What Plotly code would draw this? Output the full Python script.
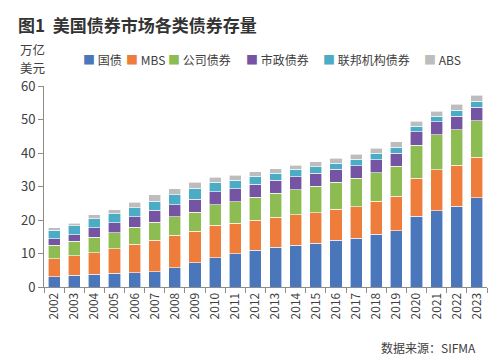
import plotly.graph_objects as go

years = [str(y) for y in range(2002, 2024)]
treasury = [3.1, 3.5, 3.8, 4.1, 4.2, 4.5, 5.8, 7.3, 8.8, 9.9, 10.9, 11.8, 12.4, 13.1, 14.0, 14.6, 15.8, 16.8, 21.1, 22.8, 24.1, 26.6]
mbs = [5.3, 5.8, 6.4, 7.3, 8.5, 9.5, 9.6, 9.4, 9.6, 9.2, 9.1, 9.0, 9.1, 9.1, 9.2, 9.4, 9.8, 10.3, 11.3, 12.2, 12.3, 12.2]
corporate = [4.1, 4.4, 4.7, 4.8, 5.1, 5.3, 5.5, 5.6, 6.2, 6.4, 6.8, 7.2, 7.6, 7.9, 8.0, 8.4, 8.5, 8.9, 9.9, 10.5, 10.5, 10.9]
municipal = [1.9, 1.9, 2.8, 3.0, 3.2, 3.6, 3.7, 3.9, 3.9, 3.9, 3.9, 3.8, 3.8, 3.8, 3.9, 3.8, 3.9, 4.0, 4.0, 3.9, 4.0, 3.9]
agency = [2.5, 2.7, 2.7, 2.6, 2.7, 2.7, 2.9, 3.3, 2.8, 2.5, 2.4, 2.2, 2.2, 2.0, 1.9, 1.9, 1.9, 1.7, 1.7, 1.5, 1.9, 1.9]
abs_ = [0.8, 0.8, 1.1, 1.3, 1.6, 1.9, 1.8, 1.7, 1.5, 1.4, 1.3, 1.3, 1.3, 1.5, 1.4, 1.6, 1.5, 1.7, 1.5, 1.6, 1.7, 1.8]

series_names = ["国债", "MBS", "公司债券", "市政债券", "联邦机构债券", "ABS"]
series_vals = [treasury, mbs, corporate, municipal, agency, abs_]
colors = ["#4a77bb", "#ee7c3a", "#8cbc52", "#7555a3", "#4badc5", "#bdbdbd"]

FONT = "Noto Sans CJK SC"
fig = go.Figure()
for name, vals, c in zip(series_names, series_vals, colors):
    fig.add_trace(go.Bar(x=years, y=vals, name=name, marker=dict(color=c, line=dict(color="white", width=0.6))))

fig.update_layout(
    barmode="stack",
    bargap=0.4,
    width=500, height=360,
    margin=dict(l=44, r=13, t=86, b=73),
    paper_bgcolor="white", plot_bgcolor="white",
    showlegend=False,
    font=dict(family=FONT, color="#404040", size=12),
)
fig.update_xaxes(
    type="category", showline=True, linecolor="#8c8c8c", linewidth=1,
    ticks="outside", tickson="boundaries", ticklen=5, tickcolor="#8c8c8c",
    tickangle=-90, tickfont=dict(size=12, color="#404040"), showgrid=False,
)
fig.update_yaxes(
    range=[0, 60], dtick=10, showline=True, linecolor="#8c8c8c", linewidth=1,
    ticks="outside", ticklen=5, tickcolor="#8c8c8c", showgrid=False, zeroline=False,
    tickfont=dict(size=13, color="#404040"),
)

def px(x):
    return (x - 44) / 443

def py(y):
    return (287 - y) / 201

# title and unit
fig.add_annotation(xref="paper", yref="paper", x=px(16), y=py(25), xanchor="left", yanchor="middle",
                   text="<b>图1  美国债券市场各类债券存量</b>", showarrow=False,
                   font=dict(size=17, color="#333333", family=FONT))
fig.add_annotation(xref="paper", yref="paper", x=px(19), y=py(50), xanchor="left", yanchor="middle",
                   text="万亿", showarrow=False, borderpad=0,
                   font=dict(size=12.5, color="#404040", family=FONT))
fig.add_annotation(xref="paper", yref="paper", x=px(19), y=py(67), xanchor="left", yanchor="middle",
                   text="美元", showarrow=False, borderpad=0,
                   font=dict(size=12.5, color="#404040", family=FONT))
# custom legend
leg_x = [81, 124, 166, 244, 321, 422]
for name, c, lx in zip(series_names, colors, leg_x):
    fig.add_annotation(xref="paper", yref="paper", x=px(lx), y=py(59), xanchor="left", yanchor="middle",
                       text=f"<span style='color:{c}'>■</span> {name}", showarrow=False,
                       font=dict(size=12, color="#404040", family=FONT))
fig.add_annotation(xref="paper", yref="paper", x=px(478), y=py(347), xanchor="right", yanchor="middle",
                   text="数据来源：SIFMA", showarrow=False,
                   font=dict(size=12, color="#404040", family=FONT))

fig.write_html("out.html", config={"displayModeBar": False},
               post_script="document.body.style.margin='0';document.body.style.overflow='hidden';")
